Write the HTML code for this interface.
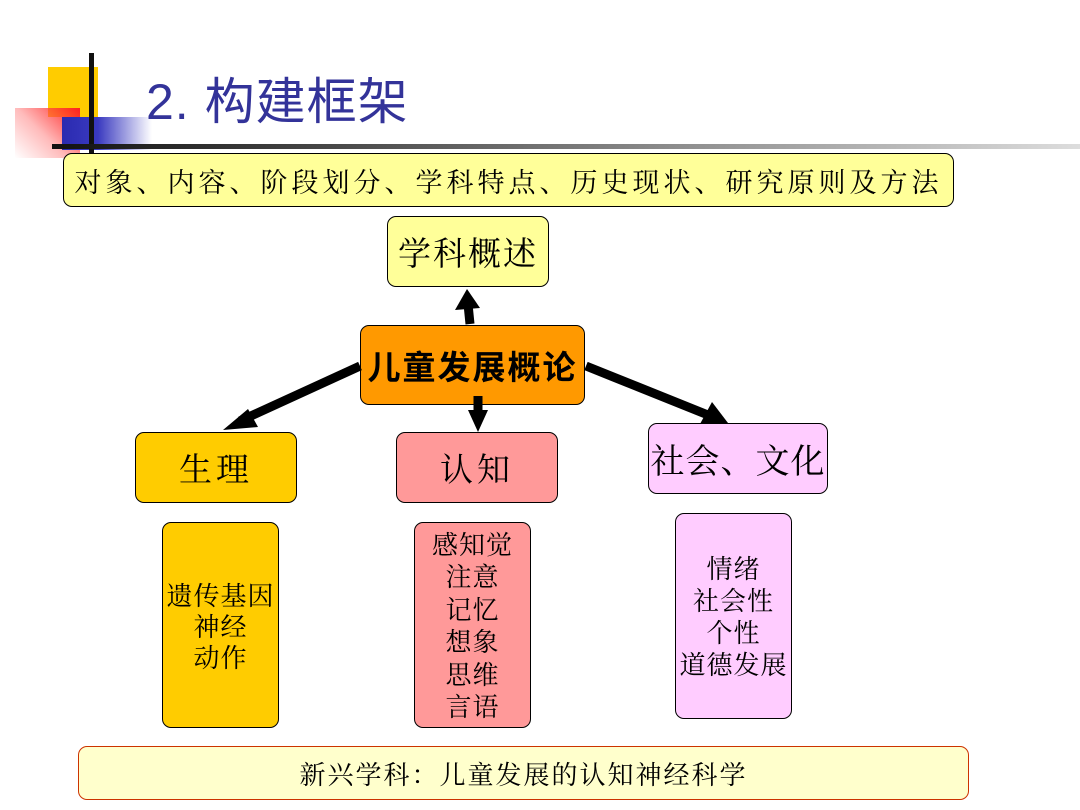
<!DOCTYPE html>
<html><head><meta charset="utf-8"><style>
body{margin:0;width:1080px;height:810px;background:#fff;position:relative;overflow:hidden;font-family:"Liberation Sans","Noto Sans CJK SC",sans-serif}
.b{position:absolute;box-sizing:border-box;border:1.5px solid #000;border-radius:9px;display:flex;align-items:center;justify-content:center;text-align:center;font-family:"Noto Serif CJK SC","Liberation Serif",serif;color:#000}
</style></head><body>
<div style="position:absolute;left:48px;top:67px;width:50px;height:50px;background:#ffcc00"></div>
<div style="position:absolute;left:15px;top:108px;width:65px;height:50px;background:linear-gradient(225deg,#ff2020,rgba(255,120,120,0.5) 55%,rgba(255,200,200,0))"></div>
<div style="position:absolute;left:62px;top:117px;width:90px;height:33px;background:linear-gradient(90deg,#2a2ab0,#3a3ac0 40%,rgba(80,80,200,0))"></div>
<div style="position:absolute;left:89px;top:53px;width:5px;height:100px;background:#111"></div>
<div style="position:absolute;left:52px;top:144px;width:1028px;height:5px;background:linear-gradient(90deg,#111,#777 50%,#ddd)"></div>
<div style="position:absolute;left:146px;top:70px;font-size:50px;color:#333399;font-family:'Liberation Sans','Noto Sans CJK SC',sans-serif;line-height:64px;letter-spacing:1px">2. 构建框架</div>

<div class="b" style="left:63px;top:153px;width:891px;height:54px;background:#ffff99;font-size:27px;letter-spacing:4px;white-space:nowrap">对象、内容、阶段划分、学科特点、历史现状、研究原则及方法</div>
<div class="b" style="left:387px;top:216px;width:162px;height:71px;background:#ffff99;font-size:33px;letter-spacing:2px">学科概述</div>
<div class="b" style="left:360px;top:325px;width:225px;height:80px;background:#ff9900;font-size:33px;font-weight:bold;letter-spacing:2px;font-family:'Noto Sans CJK SC',sans-serif">儿童发展概论</div>
<div class="b" style="left:135px;top:432px;width:162px;height:71px;background:#ffcc00;font-size:33px;letter-spacing:4px">生理</div>
<div class="b" style="left:396px;top:432px;width:162px;height:71px;background:#ff9999;font-size:33px;letter-spacing:4px">认知</div>
<div class="b" style="left:648px;top:423px;width:180px;height:71px;background:#ffccff;font-size:34px;letter-spacing:1px;white-space:nowrap">社会、文化</div>
<div class="b" style="left:162px;top:522px;width:117px;height:206px;background:#ffcc00;font-size:26px;line-height:31px;letter-spacing:1px">遗传基因<br>神经<br>动作</div>
<div class="b" style="left:414px;top:522px;width:117px;height:206px;background:#ff9999;font-size:26px;line-height:32.5px;letter-spacing:1px">感知觉<br>注意<br>记忆<br>想象<br>思维<br>言语</div>
<div class="b" style="left:675px;top:513px;width:117px;height:206px;background:#ffccff;font-size:26px;line-height:32px;letter-spacing:1px">情绪<br>社会性<br>个性<br>道德发展</div>
<div class="b" style="left:78px;top:746px;width:891px;height:54px;background:#ffffcc;border-color:#cc3300;font-size:26px;letter-spacing:2px">新兴学科：儿童发展的认知神经科学</div>

<svg style="position:absolute;left:0;top:0" width="1080" height="810">
<g stroke="#000" stroke-width="9" fill="none">
<line x1="470" y1="324" x2="468" y2="304"/>
<line x1="360" y1="366" x2="240" y2="421"/>
<line x1="478" y1="396" x2="478" y2="412"/>
<line x1="586" y1="366" x2="708" y2="415"/>
</g>
<g fill="#000">
<polygon points="467,289 455,310 480,308"/>
<polygon points="223,430 248,409 258,427"/>
<polygon points="478,432 468,410 488,410"/>
<polygon points="728,423 700,424 712,402"/>
</g>
</svg>
</body></html>
